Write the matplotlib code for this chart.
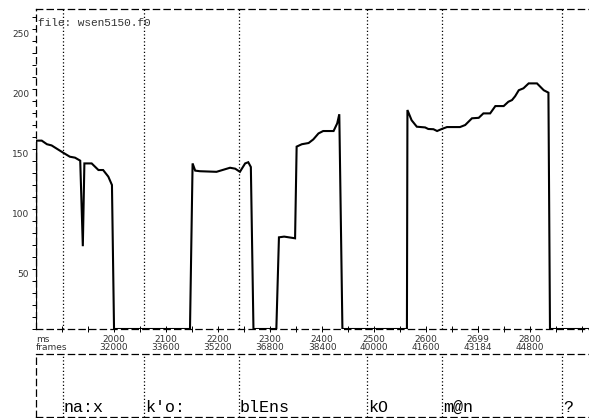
import matplotlib
matplotlib.use("Agg")
import matplotlib.pyplot as plt
import matplotlib.transforms as mtransforms
from matplotlib.ticker import MultipleLocator

# f0 contour (ms, Hz), one block per voiced stretch
time_ms = [1850, 1850.5, 1861, 1871, 1880, 1902, 1915, 1925, 1935, 1940, 1943, 1957, 1970, 1979, 1989, 1996, 2000,
           2146, 2151, 2156, 2165, 2197, 2223, 2233, 2242, 2252, 2258, 2263, 2268,
           2312, 2317, 2327, 2348, 2351, 2361, 2374, 2383, 2393, 2402, 2422, 2429, 2433, 2439,
           2563, 2564, 2572, 2582, 2598, 2604, 2614, 2621, 2630, 2640, 2665, 2675, 2688, 2701, 2710,
           2723, 2733, 2749, 2758, 2765, 2771, 2778, 2787, 2797, 2813, 2826, 2835, 2838, 2913]
f0_hz = [0, 157, 157, 154, 153, 147, 143.6, 142.8, 140.3, 69, 138, 138, 132.5, 132.5, 127, 120, 0,
         0, 138, 132, 131.5, 131, 134.4, 133.6, 131, 138, 139, 135, 0,
         0, 76.4, 77, 75.6, 152, 154, 155, 158, 163, 165, 165, 171.4, 179, 0,
         0, 182.5, 174, 168.6, 168, 166.7, 166.5, 165, 166.7, 168.3, 168.3, 170, 175.6, 176, 179.7,
         179.7, 185.8, 185.8, 189.4, 190.8, 194, 199, 200.6, 204.7, 204.7, 199, 197, 0, 0]

# x tick labels (ms and frame numbers)
tick_ms = [2000, 2100, 2200, 2300, 2400, 2500, 2600, 2699, 2800]
tick_frames = [32000, 33600, 35200, 36800, 38400, 40000, 41600, 43184, 44800]

# segment boundaries and labels
seg_bounds = [1902, 2058, 2240, 2487, 2631, 2862]
seg_labels = ["na:x", "k'o:", "blEns", "kO", "m@n", "?"]

xmin, xmax = 1850, 2913
ymin, ymax = 0, 266.7

fig = plt.figure(figsize=(5.89, 4.18), dpi=100)
ax = fig.add_axes([36/589, 1-329/418, 1-36/589, (329-9)/418])
ax2 = fig.add_axes([36/589, 1-416.5/418, 1-36/589, (416.5-354)/418])

dash = (0, (5, 3.5))
for a in (ax, ax2):
    a.set_xlim(xmin, xmax)
    a.spines['right'].set_visible(False)
    for s in ('top', 'left', 'bottom'):
        a.spines[s].set_linestyle(dash)
        a.spines[s].set_linewidth(0.9)
    for b in seg_bounds:
        a.axvline(b, color='black', lw=0.9, ls=(0, (1, 1.8)))

ax.plot(time_ms, f0_hz, color='black', lw=1.5, solid_joinstyle='miter')
ax.set_ylim(ymin, ymax)

ax.set_xticks(tick_ms, labels=[f"{m}\n{f}" for m, f in zip(tick_ms, tick_frames)])
ax.set_xticks(range(1900, 2901, 50), minor=True)
ax.tick_params(axis='x', which='both', direction='inout', length=4, width=0.7,
               labelsize=6.5, pad=2, labelcolor='#333333')
for lab in ax.get_xticklabels():
    lab.set_linespacing(0.9)

ax.set_yticks([50, 100, 150, 200, 250])
ax.yaxis.set_minor_locator(MultipleLocator(10))
ax.tick_params(axis='y', which='both', direction='out', length=3, width=0.7,
               labelsize=6.5, pad=2, labelcolor='#333333')
off = mtransforms.ScaledTranslation(0, -3/72, fig.dpi_scale_trans)
for lab in ax.get_yticklabels():
    lab.set_transform(lab.get_transform() + off)

ax.text(0, -0.018, "ms\nframes", transform=ax.transAxes, ha='left', va='top',
        fontsize=6.5, color='#333333', linespacing=0.9)
ax.text(0.003, 0.955, "file: wsen5150.f0", transform=ax.transAxes, ha='left', va='center',
        fontsize=8, family='Liberation Mono', color='#333333')

ax2.set_ylim(0, 1)
ax2.set_xticks([])
ax2.set_yticks([])
for b, lab in zip(seg_bounds, seg_labels):
    ax2.text(b + 1, 0.02, lab, ha='left', va='bottom', fontsize=12,
             family='Liberation Mono', color='black')

fig.savefig("out.png", dpi=100)
